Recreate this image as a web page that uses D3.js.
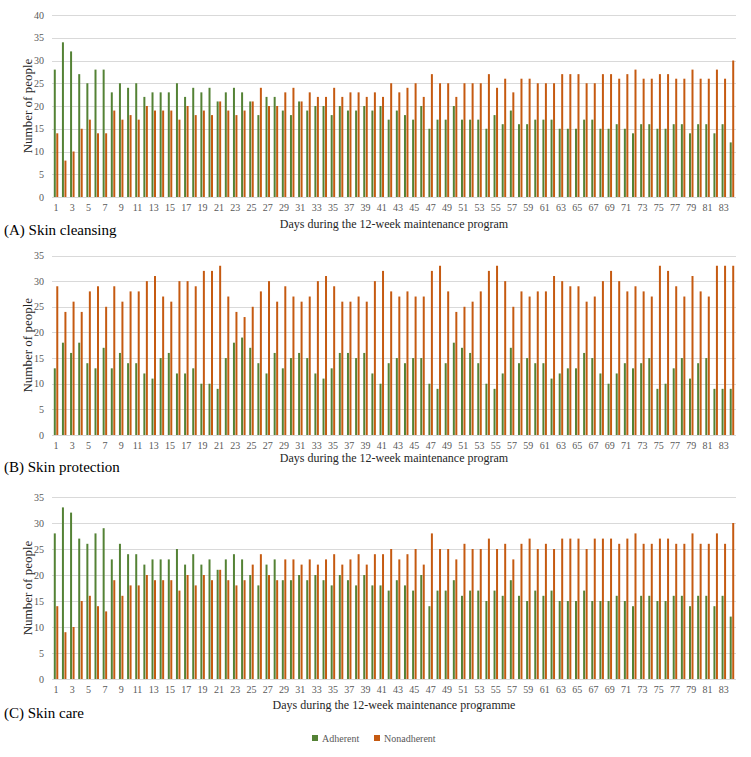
<!DOCTYPE html>
<html>
<head>
<meta charset="utf-8">
<script src="https://cdn.jsdelivr.net/npm/d3@7"></script>
<style>
	body { margin: 0; background: #fff; }
	svg { display: block; font-family: 'Liberation Serif', 'Times New Roman', serif; }
</style>
</head>
<body>
<div id="divplot"></div>
<script>
// Daily adherence counts, 12-week maintenance program

const days = d3.range(1, 85)
const dayTicks = days.filter(d => d % 2 === 1)
const seriesNames = ['Adherent', 'Nonadherent']

const cleansingAdherent = [28,34,32,27,25,28,28,23,25,24,25,22,23,23,23,25,22,24,23,24,21,23,24,23,21,18,22,22,19,18,21,19,20,20,18,20,19,19,20,19,20,17,19,18,17,20,15,17,17,20,17,17,17,15,18,16,19,16,16,17,17,17,15,15,15,17,17,15,15,16,15,14,16,16,15,15,16,16,14,16,16,14,16,12]
const cleansingNonadherent = [14,8,10,15,17,14,14,19,17,18,17,20,19,19,19,17,20,18,19,18,21,19,18,19,21,24,20,20,23,24,21,23,22,22,24,22,23,23,22,23,22,25,23,24,25,22,27,25,25,22,25,25,25,27,24,26,23,26,26,25,25,25,27,27,27,25,25,27,27,26,27,28,26,26,27,27,26,26,28,26,26,28,26,30]

const protectionAdherent = [13,18,16,18,14,13,17,13,16,14,14,12,11,15,16,12,12,13,10,10,9,15,18,19,17,14,12,16,13,15,16,15,12,11,13,16,16,15,16,12,10,14,15,14,15,15,10,9,14,18,17,16,14,10,9,12,17,14,15,14,14,11,12,13,13,16,15,12,10,12,14,13,14,15,9,10,13,15,11,14,15,9,9,9]
const protectionNonadherent = [29,24,26,24,28,29,25,29,26,28,28,30,31,27,26,30,30,29,32,32,33,27,24,23,25,28,30,26,29,27,26,27,30,31,29,26,26,27,26,30,32,28,27,28,27,27,32,33,28,24,25,26,28,32,33,30,25,28,27,28,28,31,30,29,29,26,27,30,32,30,28,29,28,27,33,32,29,27,31,28,27,33,33,33]

const careAdherent = [28,33,32,27,26,28,29,23,26,24,24,22,23,23,23,25,22,24,22,23,21,23,24,23,20,18,22,23,19,19,20,19,20,19,18,20,19,18,20,18,18,17,19,18,17,20,14,17,17,19,16,17,17,15,17,16,19,16,15,17,16,17,15,15,15,17,15,15,15,16,15,14,16,16,15,15,16,16,14,16,16,14,16,12]
const careNonadherent = [14,9,10,15,16,14,13,19,16,18,18,20,19,19,19,17,20,18,20,19,21,19,18,19,22,24,20,19,23,23,22,23,22,23,24,22,23,24,22,24,24,25,23,24,25,22,28,25,25,23,26,25,25,27,25,26,23,26,27,25,26,25,27,27,27,25,27,27,27,26,27,28,26,26,27,27,26,26,28,26,26,28,26,30]

const colors = ['#548235', '#c55a11']

let width = 751
let height = 757
let left = 52
let right = 736

let svg = d3.select('#divplot')
	.append('svg')
	.attr('width', width)
	.attr('height', height)

let xScale = d3.scaleBand()
	.domain(days)
	.range([left, right])
	.paddingInner(0.45)
	.paddingOuter(0.22)

let subScale = d3.scaleBand()
	.domain(seriesNames)
	.range([0, xScale.bandwidth()])
	.paddingInner(0.2)

const drawPanel = (cfg) => {
	let yScale = d3.scaleLinear()
		.domain([0, cfg.max])
		.range([cfg.bottom, cfg.top])

	let g = svg.append('g')

	// grid
	g.selectAll('line.grid')
	.data(yScale.ticks(cfg.max / 5))
	.enter()
	.append('line')
	.attr('x1', left)
	.attr('x2', right)
	.attr('y1', d => Math.round(yScale(d)) + 0.5)
	.attr('y2', d => Math.round(yScale(d)) + 0.5)
	.attr('stroke', '#d9d9d9')
	.attr('stroke-width', 1)

	g.selectAll('text.ytick')
	.data(yScale.ticks(cfg.max / 5))
	.enter()
	.append('text')
	.attr('x', 44)
	.attr('y', d => yScale(d))
	.attr('dy', '0.35em')
	.attr('text-anchor', 'end')
	.attr('fill', '#595959')
	.style('font-size', '10px')
	.text(d => d)

	let series = [cfg.adherent, cfg.nonadherent]
	series.forEach((vals, si) => {
		g.selectAll('rect.s' + si)
		.data(vals)
		.enter()
		.append('rect')
		.attr('x', (d, i) => xScale(days[i]) + subScale(seriesNames[si]))
		.attr('y', d => yScale(d))
		.attr('width', subScale.bandwidth())
		.attr('height', d => yScale(0) - yScale(d))
		.attr('fill', colors[si])
	})

	g.selectAll('text.xtick')
	.data(dayTicks)
	.enter()
	.append('text')
	.attr('x', d => xScale(d) + xScale.bandwidth() / 2)
	.attr('y', cfg.bottom + 10)
	.attr('dy', '0.35em')
	.attr('text-anchor', 'middle')
	.attr('fill', '#595959')
	.style('font-size', '10px')
	.text(d => d)

	g.append('text')
	.attr('transform', `translate(27,${(cfg.top + cfg.bottom) / 2}) rotate(-90)`)
	.attr('text-anchor', 'middle')
	.attr('dy', '0.35em')
	.attr('fill', '#262626')
	.style('font-size', '13px')
	.text('Number of people')

	g.append('text')
	.attr('x', (left + right) / 2)
	.attr('y', cfg.xTitleY)
	.attr('dy', '0.35em')
	.attr('text-anchor', 'middle')
	.attr('fill', '#262626')
	.style('font-size', '12px')
	.text(cfg.xTitle)

	g.append('text')
	.attr('x', 4)
	.attr('y', cfg.labelY)
	.attr('dy', '0.35em')
	.attr('fill', '#000')
	.style('font-size', '15px')
	.text(cfg.label)
}

drawPanel({ adherent: cleansingAdherent, nonadherent: cleansingNonadherent, max: 40, top: 15, bottom: 197,
	xTitle: 'Days during the 12-week maintenance program', xTitleY: 224, label: '(A) Skin cleansing', labelY: 230 })
drawPanel({ adherent: protectionAdherent, nonadherent: protectionNonadherent, max: 35, top: 255.5, bottom: 435,
	xTitle: 'Days during the 12-week maintenance program', xTitleY: 458, label: '(B) Skin protection', labelY: 467 })
drawPanel({ adherent: careAdherent, nonadherent: careNonadherent, max: 35, top: 497, bottom: 679,
	xTitle: 'Days during the 12-week maintenance programme', xTitleY: 705, label: '(C) Skin care', labelY: 713 })

// legend
let legend = svg.append('g')
	.selectAll('g')
	.data(seriesNames)
	.enter()
	.append('g')
	.attr('transform', (d, i) => `translate(${i === 0 ? 312 : 374},738)`)

legend.append('rect')
	.attr('x', 0)
	.attr('y', -3)
	.attr('width', 6)
	.attr('height', 6)
	.attr('fill', (d, i) => colors[i])

legend.append('text')
	.attr('x', 10)
	.attr('y', 0)
	.attr('dy', '0.35em')
	.attr('fill', '#595959')
	.style('font-size', '10px')
	.text(d => d)
</script>
</body>
</html>
